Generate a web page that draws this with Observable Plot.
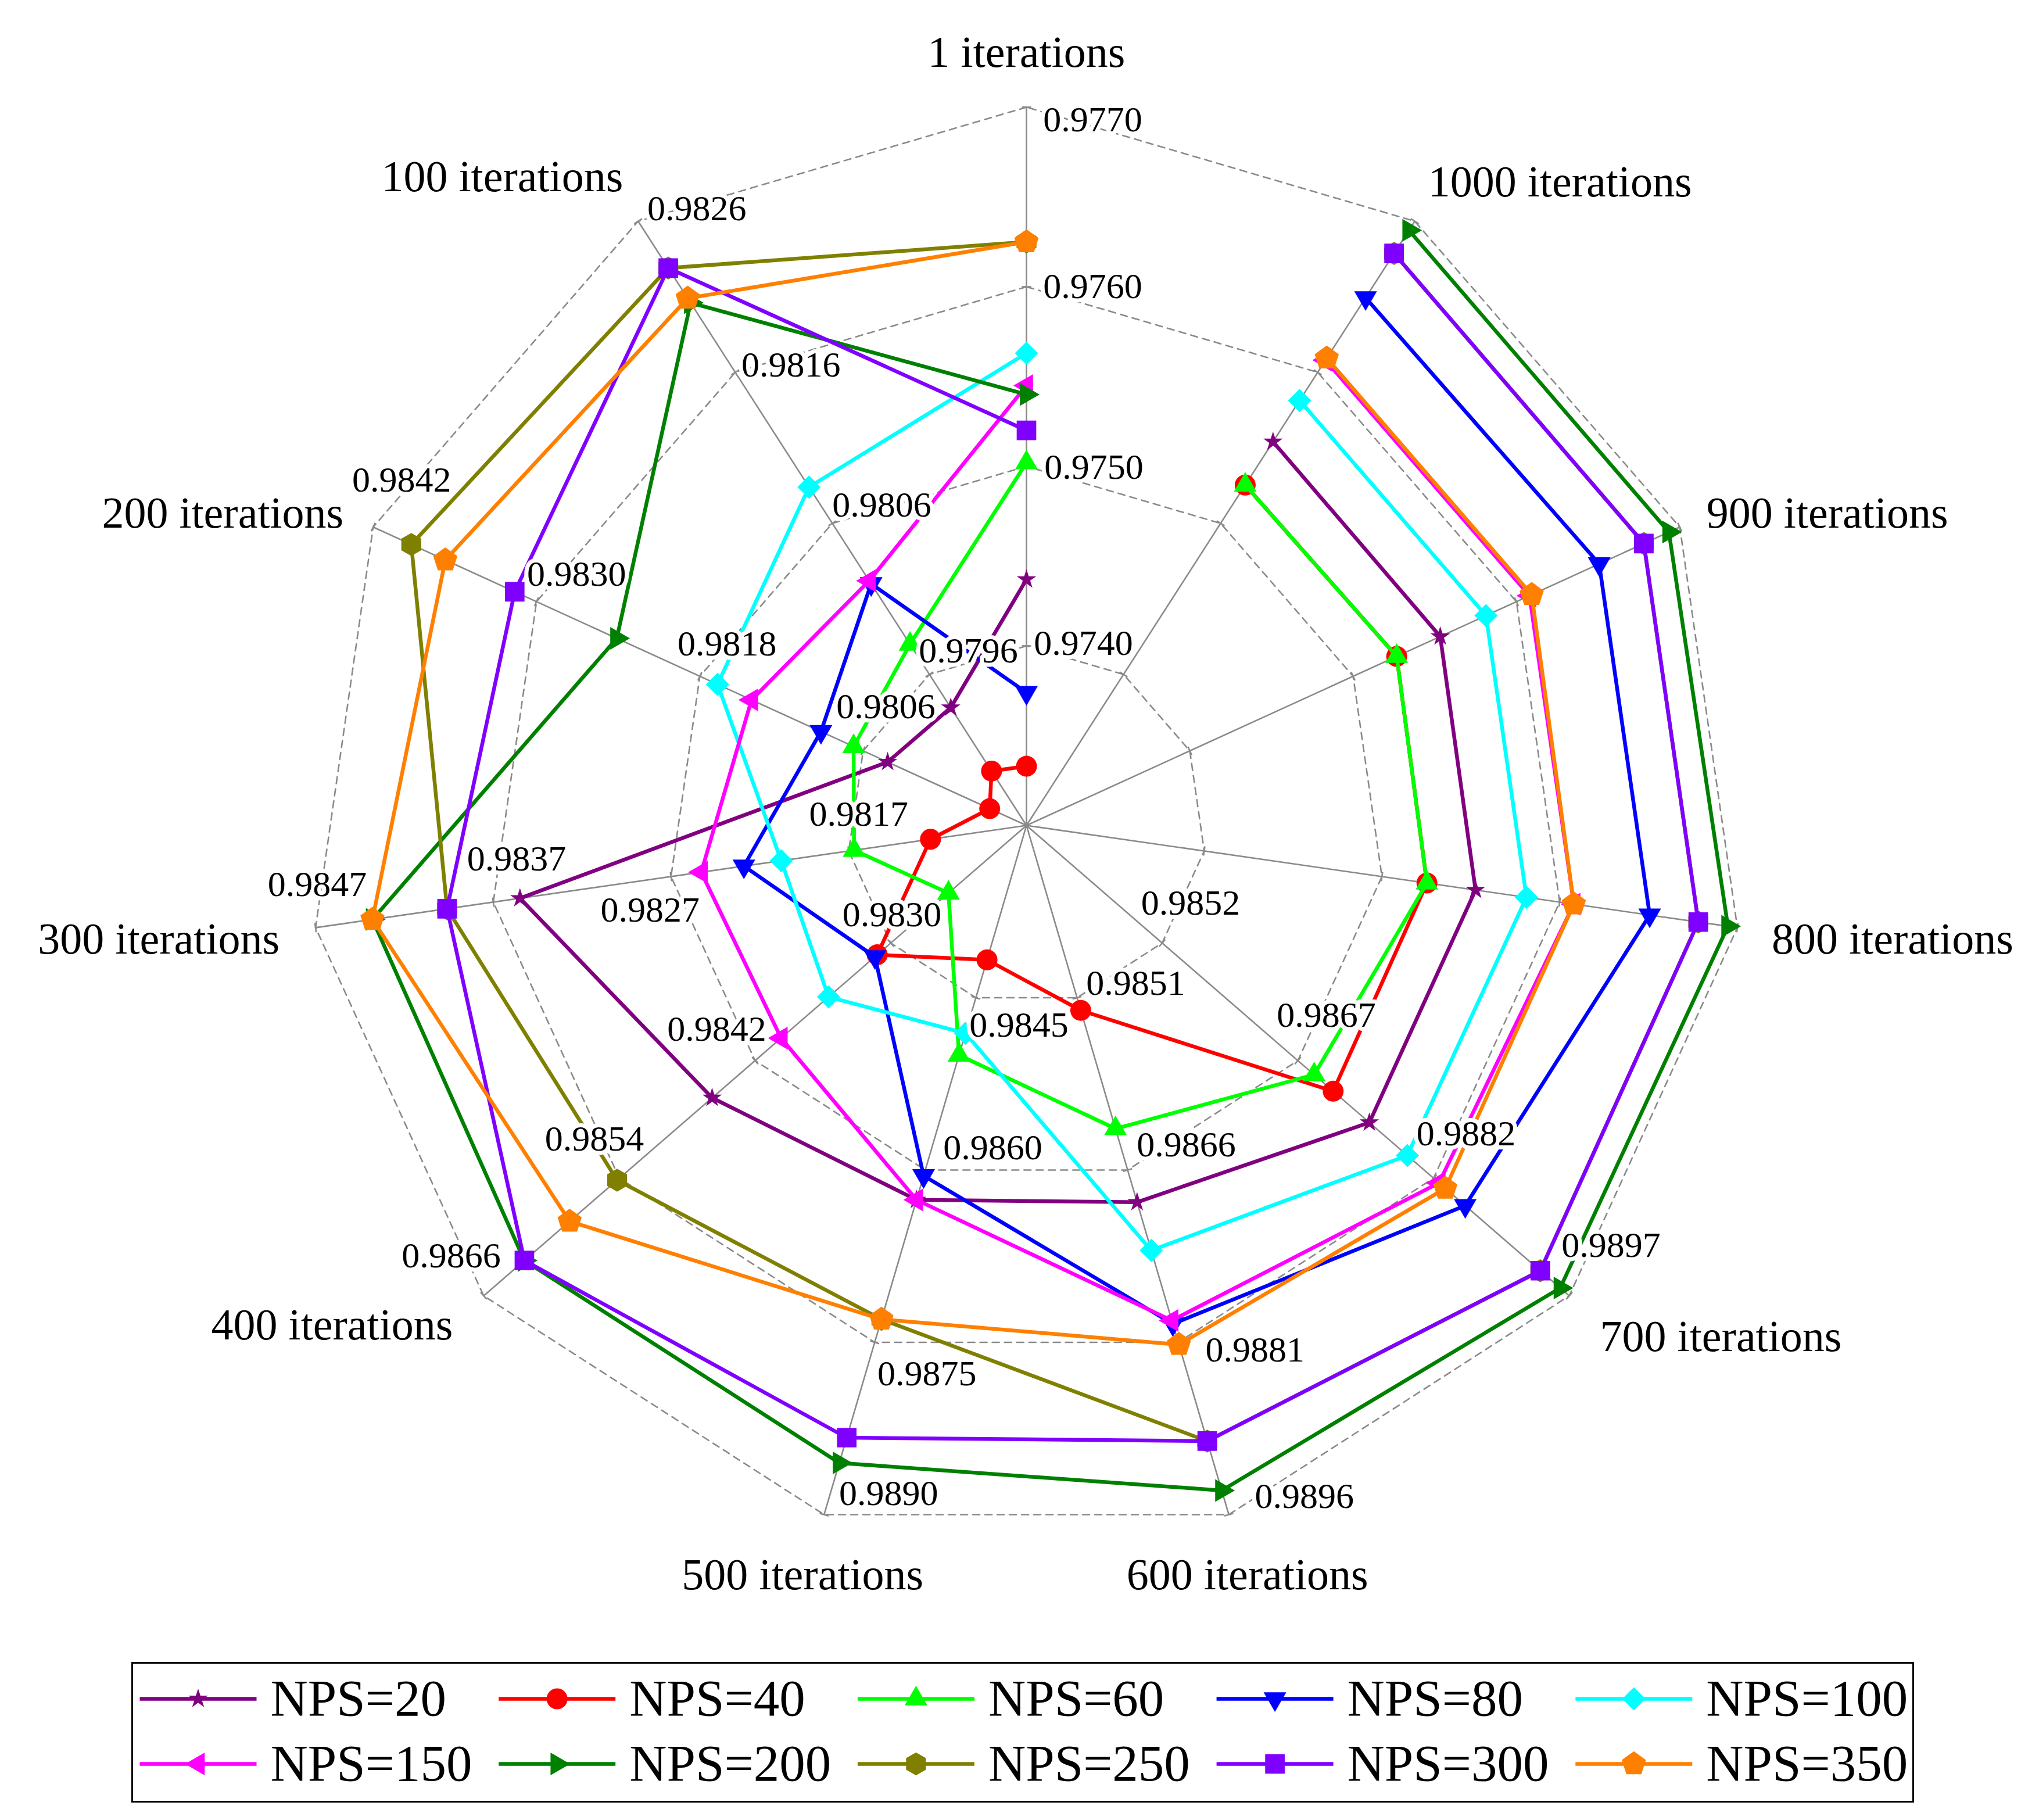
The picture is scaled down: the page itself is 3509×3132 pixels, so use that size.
<!DOCTYPE html>
<html><head><meta charset="utf-8">
<script src="https://cdn.jsdelivr.net/npm/d3@7"></script>
<script src="https://cdn.jsdelivr.net/npm/@observablehq/plot@0.6"></script>
<style>
html,body{margin:0;padding:0;background:#fff;}
#wrap{position:relative;width:3509px;height:3132px;background:#fff;}
#chart{position:absolute;left:0;top:0;}
#legend{position:absolute;left:226px;top:2860px;width:3062px;height:236px;border:3px solid #000;background:#fff;}
svg{display:block;}
</style></head><body><div id="wrap"><div id="chart"></div><div id="legend"></div></div>
<script>
// ---------- DATA ----------
const axes = ["1 iterations","100 iterations","200 iterations","300 iterations","400 iterations",
  "500 iterations","600 iterations","700 iterations","800 iterations","900 iterations","1000 iterations"];
const axisMin = [0.9730,0.9786,0.9794,0.9807,0.9818,0.9830,0.9836,0.9837,0.9838,0.9838,0.9838];
const axisMax = [0.9770,0.9826,0.9842,0.9847,0.9866,0.9890,0.9896,0.9897,0.9898,0.9898,0.9898];
const tickValues = [
  [0.9740,0.9750,0.9760,0.9770],
  [0.9796,0.9806,0.9816,0.9826],
  [0.9806,0.9818,0.9830,0.9842],
  [0.9817,0.9827,0.9837,0.9847],
  [0.9830,0.9842,0.9854,0.9866],
  [0.9845,0.9860,0.9875,0.9890],
  [0.9851,0.9866,0.9881,0.9896],
  [0.9852,0.9867,0.9882,0.9897]
];
const seriesNames = ["NPS=20","NPS=40","NPS=60","NPS=80","NPS=100","NPS=150","NPS=200","NPS=250","NPS=300","NPS=350"];
const seriesColors = ["#800080","#ff0000","#00ff00","#0000ff","#00ffff","#ff00ff","#008000","#808000","#8000ff","#ff8000"];
const nps20  = [0.97437,0.97938,0.98042,0.98355,0.98458,0.98626,0.98688,0.98749,0.98759,0.98760,0.98761];
const nps40  = [0.97333,0.97896,0.97967,0.98124,0.98312,0.98417,0.98521,0.98709,0.98718,0.98720,0.98718];
const nps60  = [0.97502,0.97980,0.98067,0.98167,0.98249,0.98500,0.98624,0.98688,0.98718,0.98720,0.98718];
const nps80  = [0.97374,0.98020,0.98091,0.98229,0.98314,0.98605,0.98794,0.98855,0.98906,0.98906,0.98904];
const nps100 = [0.97563,0.98084,0.98167,0.98208,0.98355,0.98481,0.98730,0.98791,0.98802,0.98802,0.98802];
const nps150 = [0.97545,0.98022,0.98142,0.98253,0.98397,0.98626,0.98791,0.98826,0.98842,0.98842,0.98842];
const nps200 = [0.97540,0.98206,0.98241,0.98438,0.98624,0.98855,0.98939,0.98960,0.98972,0.98970,0.98971];
const nps250 = [0.97625,0.98229,0.98392,0.98396,0.98542,0.98730,0.98896,0.98938,0.98947,0.98947,0.98948];
const nps300 = [0.97520,0.98229,0.98316,0.98396,0.98624,0.98833,0.98896,0.98938,0.98947,0.98947,0.98948];
const nps350 = [0.97625,0.98209,0.98367,0.98438,0.98584,0.98730,0.98812,0.98833,0.98842,0.98844,0.98844];
const seriesValues = [nps20,nps40,nps60,nps80,nps100,nps150,nps200,nps250,nps300,nps350];

// ---------- LAYOUT ----------
const W = 3509, H = 2800, CX = 1766, CY = 1420, R = 1236;
const FONT = "'Liberation Serif','Times New Roman',serif";
// label offsets (px) from grid vertex, per axis, per level
const tickOffsets = [
  [[98,-4],[116,2],[114,0],[114,22]],
  [[67,-40],[85,-31],[96,-13],[101,-22]],
  [[39,-76],[47,-56],[69,-47],[49,-81]],
  [[17,-63],[-36,58],[40,-74],[3,-74]],
  [[2,-49],[-66,-54],[-43,-67],[-56,-69]],
  [[74,47],[116,-38],[90,54],[111,-36]],
  [[101,-25],[101,-43],[132,13],[130,-31]],
  [[49,-69],[49,-78],[56,-76],[72,-87]]
];
const nameLayout = [
  ["middle",0,-94],["end",-26,-76],["end",-51,-23],["end",-62,20],["end",-53,51],
  ["middle",-37,104],["middle",32,104],["start",53,71],["start",59,20],["start",46,-23],["start",23,-67]
];

// ---------- SYMBOLS ----------
const sqrt3 = Math.sqrt(3);
function triangle(rot){
  return {draw(ctx,size){
    const y = -Math.sqrt(size/(sqrt3*3));
    const pts = [[0,y*2],[-sqrt3*y,-y],[sqrt3*y,-y]];
    const c = Math.cos(rot), s = Math.sin(rot);
    pts.forEach(([px,py],k)=>{const X=px*c-py*s, Y=px*s+py*c; k?ctx.lineTo(X,Y):ctx.moveTo(X,Y);});
    ctx.closePath();
  }};
}
function polygon(n){
  return {draw(ctx,size){
    const r = Math.sqrt(2*size/(n*Math.sin(2*Math.PI/n)));
    for(let k=0;k<n;k++){const a=-Math.PI/2+k*2*Math.PI/n; const X=r*Math.cos(a), Y=r*Math.sin(a); k?ctx.lineTo(X,Y):ctx.moveTo(X,Y);}
    ctx.closePath();
  }};
}
const seriesSymbols = ["star","circle",triangle(0),triangle(Math.PI),"diamond2",triangle(-Math.PI/2),triangle(Math.PI/2),polygon(6),"square",polygon(5)];
const seriesR = [10.5,18,14.5,14.5,18,14.5,14.5,18,19,19];

// ---------- GEOMETRY ----------
const N = axes.length;
const theta = i => i*2*Math.PI/N;
const ux = i => -Math.sin(theta(i)), uy = i => -Math.cos(theta(i));
const rScale = axes.map((_,i)=>d3.scaleLinear().domain([axisMin[i],axisMax[i]]).range([0,1]));
const pt = (i,v) => { const f = rScale[i](v); return {x:f*ux(i), y:f*uy(i)}; };
const levels = [1,2,3,4];

const marks = [];
// grid polygons
const gridRows = [];
levels.forEach(k=>{ for(let i=0;i<=N;i++){ const j=i%N; const v=rScale[j].invert(k/4); gridRows.push({level:k, ...pt(j,v)}); } });
marks.push(Plot.line(gridRows,{x:"x",y:"y",z:"level",stroke:"#8a8a8a",strokeWidth:2.6,strokeDasharray:"12,9"}));
// spokes
const spokes = axes.map((a,i)=>({x1:0,y1:0,x2:ux(i),y2:uy(i)}));
marks.push(Plot.link(spokes,{x1:"x1",y1:"y1",x2:"x2",y2:"y2",stroke:"#8a8a8a",strokeWidth:2.6}));
// small ticks
const tickLen = 16/R;
const ticks = [];
axes.forEach((a,i)=>levels.forEach(k=>{const p=pt(i,rScale[i].invert(k/4)); ticks.push({x1:p.x-uy(i)*tickLen/2,y1:p.y+ux(i)*tickLen/2,x2:p.x+uy(i)*tickLen/2,y2:p.y-ux(i)*tickLen/2});}));
marks.push(Plot.link(ticks,{x1:"x1",y1:"y1",x2:"x2",y2:"y2",stroke:"#8a8a8a",strokeWidth:2.6}));

// series
seriesValues.forEach((vals,s)=>{
  const rows = vals.map((v,i)=>pt(i,v));
  marks.push(Plot.line(rows,{x:"x",y:"y",stroke:seriesColors[s],strokeWidth:6.5}));
  marks.push(Plot.dot(rows,{x:"x",y:"y",symbol:seriesSymbols[s],r:seriesR[s],fill:seriesColors[s],stroke:"none"}));
});

// tick labels
const fmt = d3.format(".4f");
const tickLabels = [];
tickValues.forEach((tv,i)=>tv.forEach((v,k)=>{const p=pt(i,v); const o=tickOffsets[i][k]; tickLabels.push({x:p.x+o[0]/R, y:p.y+o[1]/R, label:fmt(v)});}));
marks.push(Plot.text(tickLabels,{x:"x",y:"y",text:"label",fontSize:62,fill:"#000",stroke:"white",strokeWidth:14,paintOrder:"stroke",strokeLinejoin:"round",fontFamily:FONT}));

// axis names
const names = axes.map((a,i)=>({x:ux(i)+nameLayout[i][1]/R, y:uy(i)+nameLayout[i][2]/R, label:a, anchor:nameLayout[i][0]}));
["start","middle","end"].forEach(an=>{
  marks.push(Plot.text(names.filter(d=>d.anchor===an),{x:"x",y:"y",text:"label",textAnchor:an,fontSize:76,fill:"#000",fontFamily:FONT}));
});

const chart = Plot.plot({
  width:W, height:H, margin:0,
  x:{type:"linear",domain:[-CX/R,(W-CX)/R],range:[0,W],axis:null},
  y:{type:"linear",domain:[-CY/R,(H-CY)/R],range:[0,H],axis:null},
  style:{background:"white",fontFamily:FONT},
  marks
});
document.getElementById("chart").appendChild(chart);

// ---------- LEGEND ----------
const LW = 3062, LH = 236;
const colStep = 617.7, rowY = [60,172], lineStart = 11, lineLen = 201, textGap = 225;
const lmarks = [];
seriesNames.forEach((nm,s)=>{
  const col = s%5, row = Math.floor(s/5);
  const x0 = lineStart + col*colStep, y0 = rowY[row];
  lmarks.push(Plot.link([{x1:x0,x2:x0+lineLen,y:y0}],{x1:"x1",x2:"x2",y1:"y",y2:"y",stroke:seriesColors[s],strokeWidth:6.5}));
  lmarks.push(Plot.dot([{x:x0+lineLen/2,y:y0}],{x:"x",y:"y",symbol:seriesSymbols[s],r:seriesR[s],fill:seriesColors[s],stroke:"none"}));
  lmarks.push(Plot.text([{x:x0+textGap,y:y0,label:nm}],{x:"x",y:"y",text:"label",textAnchor:"start",fontSize:89,fill:"#000",fontFamily:FONT}));
});
const legend = Plot.plot({
  width:LW, height:LH, margin:0,
  x:{type:"linear",domain:[0,LW],range:[0,LW],axis:null},
  y:{type:"linear",domain:[0,LH],range:[0,LH],axis:null},
  style:{background:"white",fontFamily:FONT},
  marks:lmarks
});
document.getElementById("legend").appendChild(legend);
</script></body></html>
